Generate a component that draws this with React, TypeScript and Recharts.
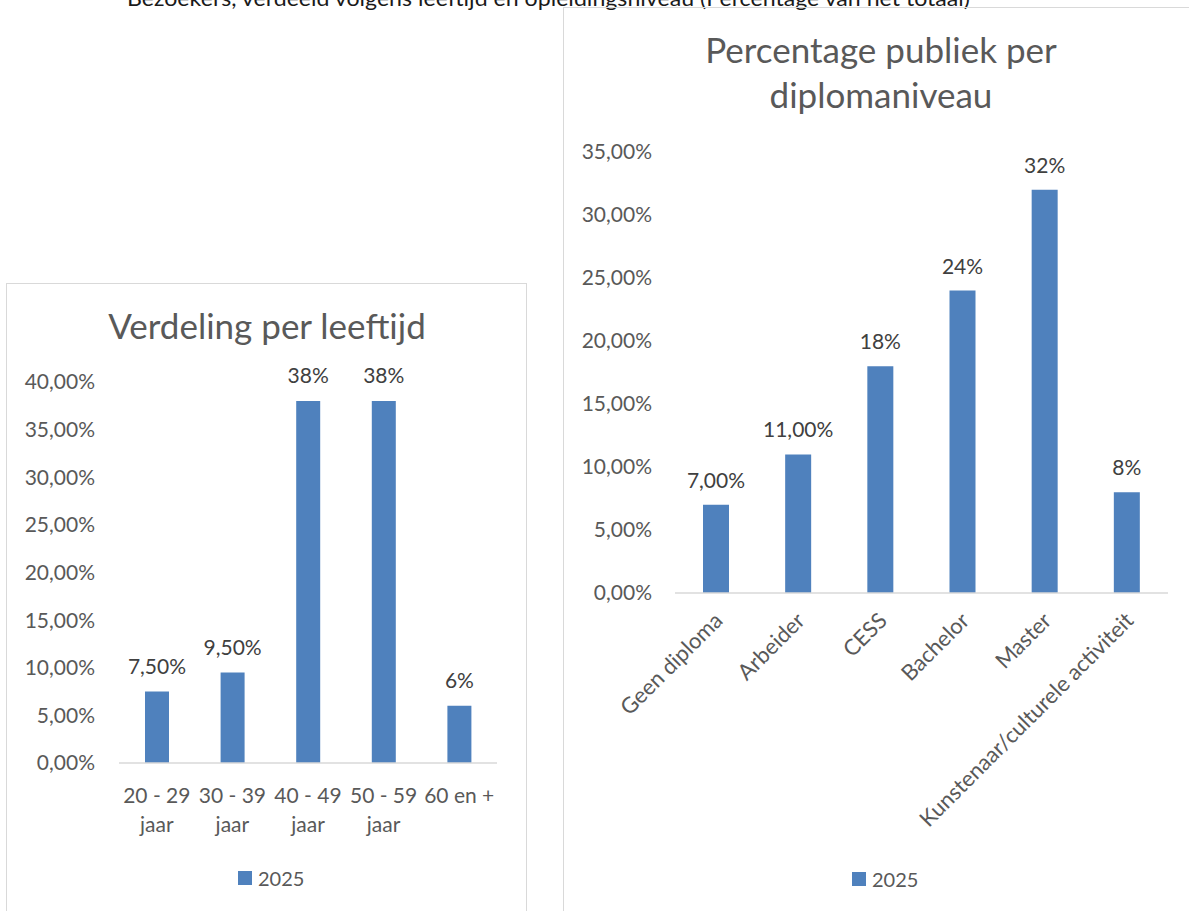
import { BarChart, Bar, XAxis, YAxis, LabelList, Legend } from "recharts";

const FONT = "Lato, 'Open Sans', sans-serif";
const BLUE = "#4F81BD";
const AXIS_COLOR = "#D9D9D9";
const TEXT = "#595959";
const LABEL = "#404040";

// leeftijd
const ageCategories = ["20 - 29\njaar", "30 - 39\njaar", "40 - 49\njaar", "50 - 59\njaar", "60 en +"];
const ageValues = [0.075, 0.095, 0.38, 0.38, 0.06];
const ageLabels = ["7,50%", "9,50%", "38%", "38%", "6%"];
const ageTicks = [0, 0.05, 0.1, 0.15, 0.2, 0.25, 0.3, 0.35, 0.4];

// diploma
const diplomaCategories = ["Geen diploma", "Arbeider", "CESS", "Bachelor", "Master", "Kunstenaar/culturele activiteit"];
const diplomaValues = [0.07, 0.11, 0.18, 0.24, 0.32, 0.08];
const diplomaLabels = ["7,00%", "11,00%", "18%", "24%", "32%", "8%"];
const diplomaTicks = [0, 0.05, 0.1, 0.15, 0.2, 0.25, 0.3, 0.35];

const seriesName = "2025";

const pct = (v: number) => (v * 100).toFixed(2).replace(".", ",") + "%";

const ageData = ageCategories.map((cat, i) => ({ cat, value: ageValues[i], label: ageLabels[i] }));
const diplomaData = diplomaCategories.map((cat, i) => ({ cat, value: diplomaValues[i], label: diplomaLabels[i] }));

function AgeTick({ x, y, payload }: any) {
  const lines = String(payload.value).split("\n");
  return (
    <text textAnchor="middle" fill={TEXT} fontSize={21} fontFamily={FONT}>
      {lines.map((l, i) => (
        <tspan key={i} x={x} y={y + 40 + i * 29}>
          {l}
        </tspan>
      ))}
    </text>
  );
}

function DiplomaTick({ x, y, payload }: any) {
  const ax = x + 8;
  const ay = y + 29;
  return (
    <text
      x={ax}
      y={ay}
      transform={`rotate(-45 ${ax} ${ay})`}
      textAnchor="end"
      fill={TEXT}
      fontSize={22}
      fontFamily={FONT}
    >
      {payload.value}
    </text>
  );
}

function LegendBox({ payload }: any) {
  return (
    <div style={{ display: "flex", alignItems: "center", fontFamily: FONT, fontSize: 20, lineHeight: "20px", color: TEXT }}>
      {(payload || []).map((p: any) => (
        <div key={p.value} style={{ display: "flex", alignItems: "center" }}>
          <span style={{ display: "inline-block", width: 14, height: 14, background: BLUE, marginRight: 6 }} />
          {p.value}
        </div>
      ))}
    </div>
  );
}

const yTick = { fill: TEXT, fontSize: 21, fontFamily: FONT };

export default function App() {
  return (
    <div style={{ position: "absolute", left: 0, top: 0, width: 1189, height: 911, overflow: "hidden", background: "#fff" }}>
      {/* afgesneden regel bovenaan */}
      <svg width={1189} height={20} style={{ position: "absolute", left: 0, top: 0 }}>
        <text x={127} y={6} textLength={843} lengthAdjust="spacingAndGlyphs" fontSize={21} fontFamily={FONT} fill="#1a1a1a">
          Bezoekers, verdeeld volgens leeftijd en opleidingsniveau (Percentage van het totaal)
        </text>
      </svg>

      {/* Verdeling per leeftijd */}
      <div
        style={{
          position: "absolute",
          left: 6,
          top: 283,
          width: 521,
          height: 700,
          border: `1px solid ${AXIS_COLOR}`,
          boxSizing: "border-box",
        }}
      >
        <svg width={519} height={120} style={{ position: "absolute", left: 0, top: 0 }}>
          <text x={260} y={55} textAnchor="middle" fontSize={35} fontFamily={FONT} fill={TEXT}>
            Verdeling per leeftijd
          </text>
        </svg>
        <BarChart width={519} height={640} data={ageData} margin={{ top: 98, right: 29, bottom: 0, left: 0 }}>
          <XAxis
            dataKey="cat"
            height={161}
            interval={0}
            tick={<AgeTick />}
            tickLine={false}
            tickSize={0}
            tickMargin={0}
            axisLine={{ stroke: AXIS_COLOR, strokeWidth: 1.5 }}
          />
          <YAxis
            width={112}
            domain={[0, 0.4]}
            ticks={ageTicks}
            tickFormatter={pct}
            tick={yTick}
            tickLine={false}
            axisLine={false}
            tickSize={0}
            tickMargin={24}
          />
          <Legend
            content={<LegendBox />}
            verticalAlign="middle"
            align="center"
            wrapperStyle={{ left: 231, top: 584, width: "auto" }}
          />
          <Bar dataKey="value" name={seriesName} fill={BLUE} barSize={24} isAnimationActive={false}>
            <LabelList dataKey="label" position="top" offset={18} fill={LABEL} fontSize={21} fontFamily={FONT} />
          </Bar>
        </BarChart>
      </div>

      {/* Percentage publiek per diplomaniveau */}
      <div
        style={{
          position: "absolute",
          left: 563,
          top: 7,
          width: 700,
          height: 1000,
          border: `1px solid ${AXIS_COLOR}`,
          boxSizing: "border-box",
        }}
      >
        <svg width={625} height={130} style={{ position: "absolute", left: 0, top: 0 }}>
          <text x={317} y={55} textAnchor="middle" fontSize={35} fontFamily={FONT} fill={TEXT}>
            Percentage publiek per
          </text>
          <text x={317} y={100} textAnchor="middle" fontSize={35} fontFamily={FONT} fill={TEXT}>
            diplomaniveau
          </text>
        </svg>
        <BarChart width={625} height={903} data={diplomaData} margin={{ top: 144, right: 21, bottom: 0, left: 0 }}>
          <XAxis
            dataKey="cat"
            height={318}
            interval={0}
            tick={<DiplomaTick />}
            tickLine={false}
            tickSize={0}
            tickMargin={0}
            axisLine={{ stroke: AXIS_COLOR, strokeWidth: 1.5 }}
          />
          <YAxis
            width={111}
            domain={[0, 0.35]}
            ticks={diplomaTicks}
            tickFormatter={pct}
            tick={yTick}
            tickLine={false}
            axisLine={false}
            tickSize={0}
            tickMargin={23}
          />
          <Legend
            content={<LegendBox />}
            verticalAlign="middle"
            align="center"
            wrapperStyle={{ left: 288, top: 861, width: "auto" }}
          />
          <Bar dataKey="value" name={seriesName} fill={BLUE} barSize={26} isAnimationActive={false}>
            <LabelList dataKey="label" position="top" offset={17} fill={LABEL} fontSize={21} fontFamily={FONT} />
          </Bar>
        </BarChart>
      </div>
    </div>
  );
}
